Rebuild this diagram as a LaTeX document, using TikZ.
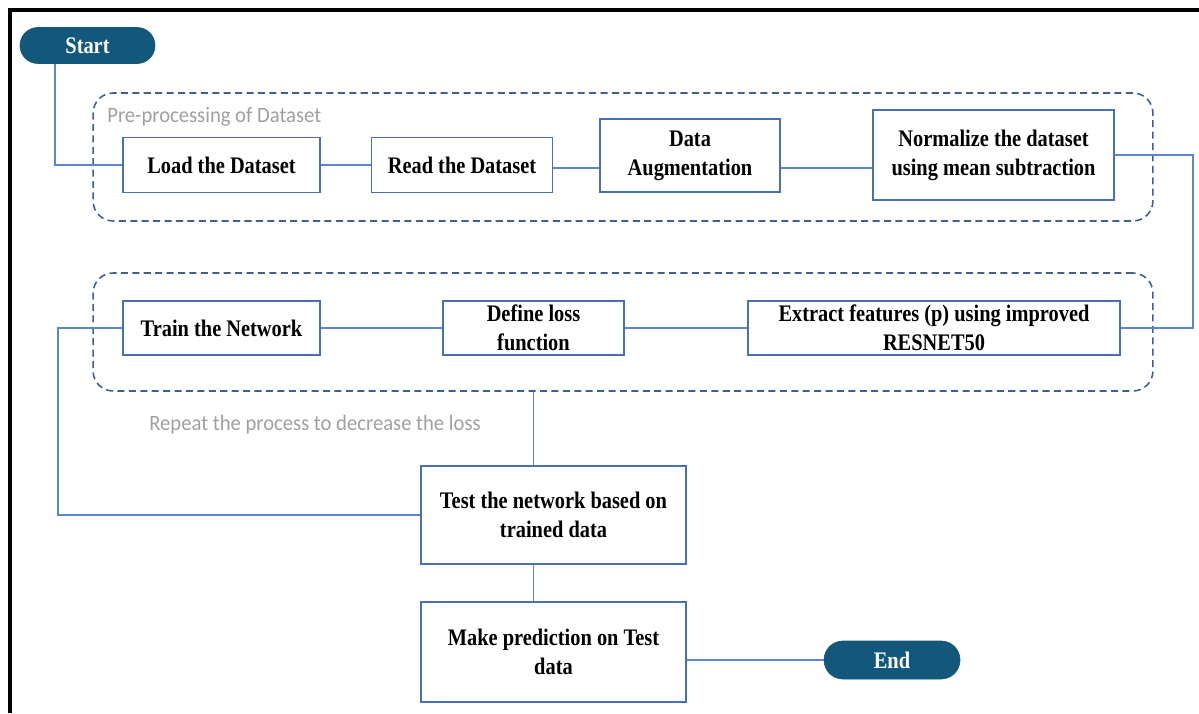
\documentclass[tikz,border=0pt]{standalone}
\usepackage{fontspec}
\setmainfont{Liberation Serif}[FakeStretch=0.86]
\newfontfamily\notefont{Carlito}[FakeStretch=0.94]
\definecolor{boxblue}{HTML}{4A6FB5}
\definecolor{lineblue}{HTML}{5B86CC}
\definecolor{dashblue}{HTML}{3F5F94}
\definecolor{termteal}{HTML}{13587A}
\definecolor{notegray}{HTML}{A0A0A0}
\begin{document}
\begin{tikzpicture}[
  x=0.02cm, y=-0.02cm,
  font=\fontsize{13.5}{16.5}\selectfont\bfseries,
  term/.style={draw=termteal,fill=termteal,text=white,
    rounded corners=0.36cm,minimum width=2.7cm,minimum height=0.72cm,
    inner sep=0pt},
  proc/.style={draw=boxblue,line width=1.1pt,fill=white,align=center,
    inner sep=2pt,minimum height=1.1cm},
  grp/.style={draw=dashblue,dash pattern=on 4pt off 2.5pt,line width=0.9pt,
    rounded corners=0.4cm,minimum width=21.2cm,inner sep=0pt},
  note/.style={font=\notefont\fontsize{12.5}{14}\selectfont,text=notegray,
    anchor=west,inner sep=0pt},
  link/.style={draw=lineblue,line width=0.8pt}]
\useasboundingbox (0,0) rectangle (1199,713);
\draw[line width=0.08cm] (10,713) -- (10,10) -- (1199,10);

% groups
\node[grp,minimum height=2.56cm] (prep) at (623,157) {};
\node[grp,minimum height=2.36cm] (loop) at (623,332) {};
\node[note] (preplbl) at (107,117) {Pre-processing of Dataset};
\node[note] (looplbl) at (149,425) {Repeat the process to decrease the loss};

% steps
\node[term] (start) at (87.5,45.5) {Start};
\node[proc,minimum width=3.94cm] (load) at (221.5,165) {Load the Dataset};
\node[proc,minimum width=3.62cm] (read) at (462,165) {Read the Dataset};
\node[proc,minimum width=3.6cm,minimum height=1.46cm] (aug) at (690,155.5) {Data\\Augmentation};
\node[proc,minimum width=4.82cm,minimum height=1.8cm] (norm) at (993.5,155) {Normalize the dataset\\using mean subtraction};
\node[proc,minimum width=3.94cm,minimum height=1.08cm] (train) at (221.5,328) {Train the Network};
\node[proc,minimum width=3.62cm,minimum height=1.08cm] (loss) at (533.5,328) {Define loss\\function};
\node[proc,minimum width=7.44cm,minimum height=1.08cm] (extract) at (934,328) {Extract features (p) using improved\\RESNET50};
\node[proc,minimum width=5.3cm,minimum height=1.96cm] (test) at (553.5,515) {Test the network based on\\trained data};
\node[proc,minimum width=5.3cm,minimum height=2cm] (make) at (553.5,652) {Make prediction on Test\\data};
\node[term,minimum width=2.72cm,minimum height=0.76cm,rounded corners=0.38cm] (end) at (892,660) {End};

\coordinate (rturn) at (1193,240);
\coordinate (lturn) at (58,420);

% connectors
\draw[link] ([xshift=-0.65cm]start.south) |- (load.west);
\draw[link] (load.east) -- (read.west);
\draw[link] ([yshift=-0.06cm]read.east) -- ([yshift=-0.06cm]read.east -| aug.west);
\draw[link] ([yshift=-0.06cm]read.east -| aug.east) -- ([yshift=-0.06cm]read.east -| norm.west);
\draw[link] (norm.east) -| (rturn) |- (extract.east);
\draw[link] (extract.west) -- (loss.east);
\draw[link] (loss.west) -- (train.east);
\draw[link] (train.west) -| (lturn) |- (test.west);
\draw[link] (loop.south -| loss) -- (test.north -| loss);
\draw[link] (test.south -| loss) -- (make.north -| loss);
\draw[link] (end.west -| make.east) -- (end.west);
\end{tikzpicture}
\end{document}
